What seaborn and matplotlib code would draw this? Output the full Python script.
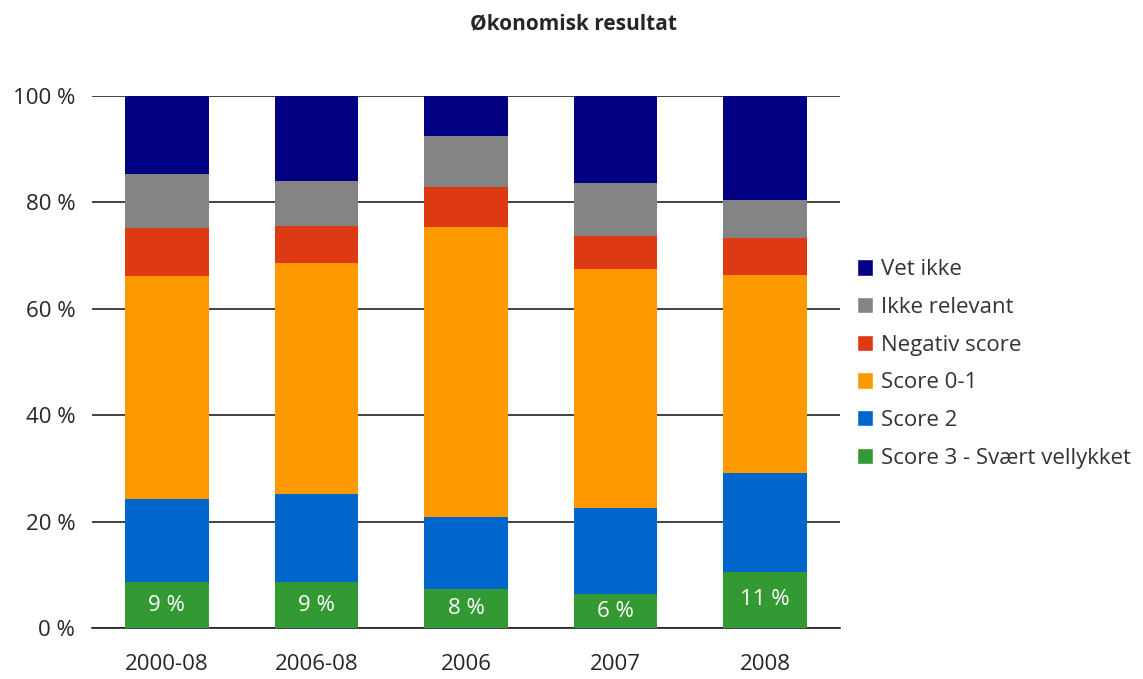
import numpy as np
import matplotlib
matplotlib.use("Agg")
import matplotlib.pyplot as plt
import seaborn as sns
from matplotlib.patches import Patch

# data (percent)
categories = ["2000-08", "2006-08", "2006", "2007", "2008"]
score3 = [8.6, 8.6, 7.4, 6.3, 10.6]
score2 = [15.7, 16.6, 13.4, 16.2, 18.6]
score01 = [41.9, 43.4, 54.6, 44.9, 37.1]
negativ = [9.0, 6.9, 7.5, 6.2, 7.1]
ikke_relevant = [10.1, 8.6, 9.5, 10.0, 7.0]
vet_ikke = [14.7, 15.9, 7.6, 16.4, 19.6]
score3_labels = ["9 %", "9 %", "8 %", "6 %", "11 %"]

series = [
    ("Score 3 - Svært vellykket", score3, "#339933"),
    ("Score 2", score2, "#0066CC"),
    ("Score 0-1", score01, "#FF9900"),
    ("Negativ score", negativ, "#DD3913"),
    ("Ikke relevant", ikke_relevant, "#848484"),
    ("Vet ikke", vet_ikke, "#000080"),
]

sns.set_theme(style="white")
plt.rcParams["font.family"] = ["Open Sans", "DejaVu Sans"]

fig = plt.figure(figsize=(11.43, 6.79), dpi=100)
ax = fig.add_axes([0.0805, 0.0751, 0.6544, 0.7835])

bottom = np.zeros(len(categories))
for name, vals, color in series:
    sns.barplot(x=categories, y=vals, bottom=bottom, color=color, width=0.56,
                saturation=1, linewidth=0, edgecolor=color, ax=ax, zorder=3)
    bottom += np.array(vals)

# labels inside green segments
for i, lab in enumerate(score3_labels):
    ax.text(i, score3[i] / 2, lab, ha="center", va="center", color="white",
            fontsize=16, zorder=4)

ax.set_xlim(-0.5, len(categories) - 0.5)
ax.set_ylim(0, 100)
ax.set_yticks(range(0, 101, 20))
ax.set_yticklabels([f"{v} %" for v in range(0, 101, 20)], fontsize=16, color="#262626")
ax.yaxis.grid(True, color="#222222", linewidth=1.2, zorder=0)
ax.set_axisbelow(True)

ax.tick_params(axis="x", which="major", length=0, labelsize=16, labelcolor="#262626", pad=19)
ax.set_xticks(np.arange(-0.5, len(categories)), minor=True)
ax.tick_params(axis="x", which="minor", length=9, width=1.2, color="#222222", direction="out")
ax.tick_params(axis="y", length=0, pad=12)

for side in ["left", "right", "top"]:
    ax.spines[side].set_visible(False)
ax.spines["bottom"].set_color("#222222")
ax.spines["bottom"].set_linewidth(1.2)

ax.set_xlabel("")
ax.set_ylabel("")

fig.text(0.502, 0.965, "Økonomisk resultat", ha="center", va="center",
         fontsize=15, fontweight="bold", color="#262626")

handles = [Patch(facecolor=c, label=n) for n, v, c in reversed(series)]
fig.legend(handles=handles, loc="center left", bbox_to_anchor=(0.732, 0.464),
           frameon=False, fontsize=16, handlelength=0.75, handleheight=0.75,
           handletextpad=0.35, labelspacing=0.75, labelcolor="#333333")

plt.savefig("out.png", dpi=100)
